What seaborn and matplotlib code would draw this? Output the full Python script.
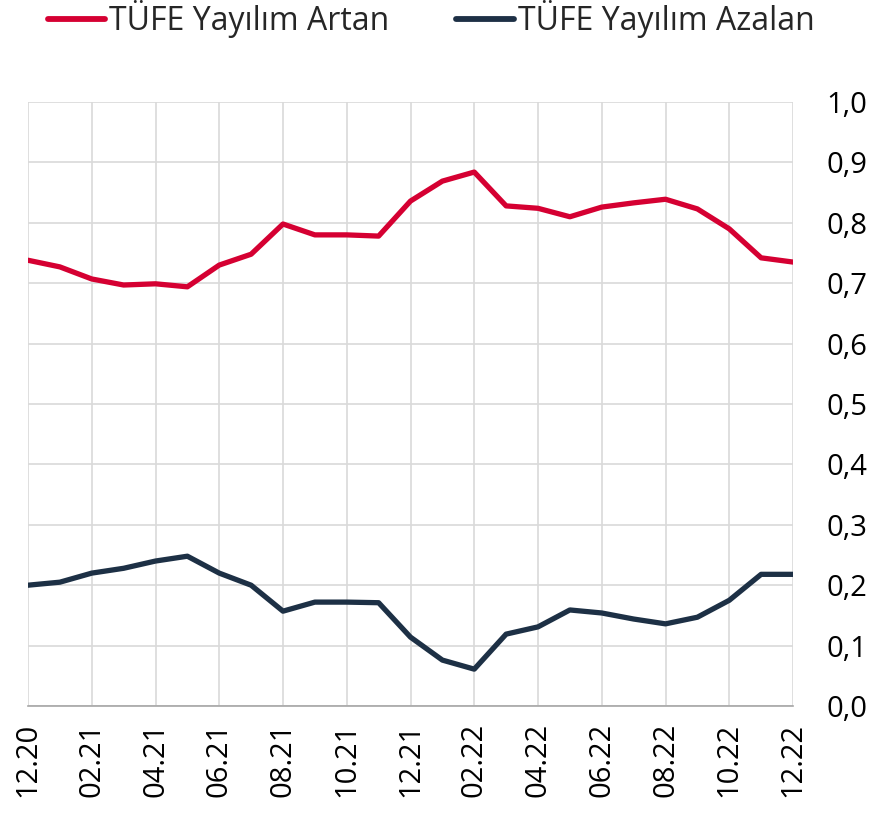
import matplotlib
matplotlib.use("Agg")
import matplotlib.pyplot as plt
import seaborn as sns
import pandas as pd
import numpy as np

months = ["12.20", "01.21", "02.21", "03.21", "04.21", "05.21", "06.21", "07.21", "08.21",
          "09.21", "10.21", "11.21", "12.21", "01.22", "02.22", "03.22", "04.22", "05.22",
          "06.22", "07.22", "08.22", "09.22", "10.22", "11.22", "12.22"]
artan = [0.738, 0.727, 0.707, 0.697, 0.699, 0.694, 0.730, 0.748, 0.798, 0.780, 0.780, 0.778,
         0.836, 0.869, 0.884, 0.828, 0.824, 0.810, 0.826, 0.833, 0.839, 0.823, 0.790, 0.742, 0.735]
azalan = [0.200, 0.205, 0.220, 0.228, 0.240, 0.248, 0.220, 0.200, 0.157, 0.172, 0.172, 0.171,
          0.114, 0.076, 0.061, 0.119, 0.131, 0.159, 0.154, 0.144, 0.136, 0.147, 0.175, 0.218, 0.218]
series_names = ["TÜFE Yayılım Artan", "TÜFE Yayılım Azalan"]
yticks = [0.0, 0.1, 0.2, 0.3, 0.4, 0.5, 0.6, 0.7, 0.8, 0.9, 1.0]

sns.set_theme(style="white")
plt.rcParams["font.family"] = ["Open Sans", "DejaVu Sans"]

idx = np.arange(len(months))
df = pd.DataFrame({
    "x": np.concatenate([idx, idx]),
    "y": artan + azalan,
    "series": [series_names[0]] * len(months) + [series_names[1]] * len(months),
})

fig = plt.figure(figsize=(8.71, 8.19), dpi=100)
W, H = 871, 819
ax = fig.add_axes([28 / W, (H - 706) / H, (793 - 28) / W, (706 - 102) / H])

palette = {series_names[0]: "#D50032", series_names[1]: "#1D3045"}
sns.lineplot(data=df, x="x", y="y", hue="series", palette=palette, linewidth=3.8,
             ax=ax, legend=False, solid_capstyle="round")

ax.set_xlim(0, len(months) - 1)
ax.set_ylim(0, 1.0)
xt = idx[::2]
ax.set_xticks(xt)
ax.set_xticklabels([months[i] for i in xt], rotation=90, fontsize=21, color="#000000")
ax.set_yticks(yticks)
ax.set_yticklabels([f"{v:.1f}".replace(".", ",") for v in yticks], fontsize=21, color="#000000")
ax.yaxis.tick_right()
ax.tick_params(axis="y", length=0, pad=24)
ax.tick_params(axis="x", length=0, pad=12)
ax.set_xlabel("")
ax.set_ylabel("")
ax.grid(True, color="#D9D9D9", linewidth=1.2)
ax.set_axisbelow(True)
for s in ["top", "left", "right"]:
    ax.spines[s].set_visible(False)
ax.spines["bottom"].set_color("#A6A6A6")
ax.spines["bottom"].set_linewidth(1.2)

from matplotlib.lines import Line2D
handles = [Line2D([0], [0], color=palette[n], lw=4.2, solid_capstyle="round") for n in series_names]
fig.legend(handles, series_names, loc="upper center", bbox_to_anchor=(0.495, 1.035), ncol=2,
           frameon=False, fontsize=23, handlelength=1.8, handletextpad=0.12, columnspacing=2.1)

fig.savefig("out.png", dpi=100)
